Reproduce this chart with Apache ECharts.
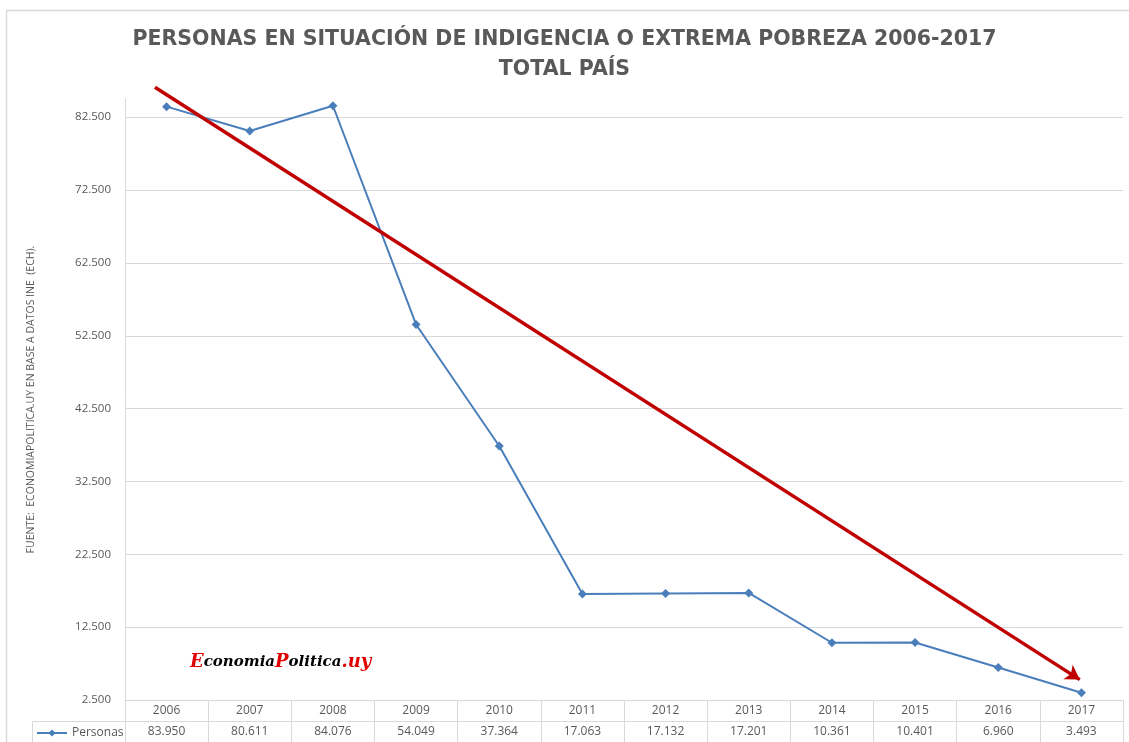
<!DOCTYPE html>
<html>
<head>
<meta charset="utf-8">
<title>Personas en situación de indigencia</title>
<script src="https://cdn.jsdelivr.net/npm/echarts@6/dist/echarts.min.js"></script>
<style>
  html, body { margin: 0; padding: 0; background: #fff; }
  #chart { width: 1129px; height: 742px; }
</style>
</head>
<body>
<div id="chart"></div>
<script>
// datos
var years = ['2006','2007','2008','2009','2010','2011','2012','2013','2014','2015','2016','2017'];
var personas = [83950, 80611, 84076, 54049, 37364, 17063, 17132, 17201, 10361, 10401, 6960, 3493];
// tendencia (x en índice de categoría, y en personas)
var trendX = [-0.14, 10.98];
var trendY = [86600, 5300];

function fmt(v){
  return String(v).replace(/\B(?=(\d{3})+(?!\d))/g, '.');
}

document.addEventListener('DOMContentLoaded', function(){
  var chart = echarts.init(document.getElementById('chart'));
  var gray = '#595959';
  var lineGray = '#d9d9d9';
  var font = '"Open Sans", sans-serif';

  var trendData = trendX.map(function(x, i){
    var item = { value: [x, trendY[i]] };
    if (i === trendX.length - 1) {
      item.symbol = 'arrow';
      item.symbolSize = [13, 14];
      item.symbolRotate = -122.8;
    }
    return item;
  });

  var option = {
    backgroundColor: '#fff',
    animation: false,
    title: {
      text: 'PERSONAS EN SITUACIÓN DE INDIGENCIA O EXTREMA POBREZA 2006-2017\nTOTAL PAÍS',
      left: 'center',
      top: 20,
      textStyle: { color: gray, fontSize: 20.5, fontWeight: 'bold', fontFamily: '"DejaVu Sans", sans-serif', lineHeight: 30 }
    },
    grid: { left: 125, right: 6, top: 99, bottom: 42 },
    legend: {
      data: ['Personas'],
      left: 31,
      top: 722,
      itemWidth: 30,
      itemHeight: 9,
      itemGap: 4,
      textStyle: { color: gray, fontSize: 12, fontFamily: font }
    },
    xAxis: [
      {
        type: 'category',
        data: years,
        position: 'bottom',
        axisLine: { show: true, lineStyle: { color: lineGray } },
        axisTick: { show: true, length: 21, interval: 0, lineStyle: { color: lineGray } },
        axisLabel: { color: gray, fontSize: 12, fontFamily: font, margin: 5, interval: 0 }
      },
      {
        type: 'category',
        data: years,
        position: 'bottom',
        offset: 21,
        axisLine: { show: true, lineStyle: { color: lineGray } },
        axisTick: { show: true, length: 21, interval: 0, lineStyle: { color: lineGray } },
        axisLabel: {
          color: gray, fontSize: 12, fontFamily: font, margin: 5, interval: 0,
          formatter: function(v, i){ return fmt(personas[i]); }
        }
      },
      {
        type: 'value',
        min: -0.5,
        max: 11.5,
        show: false
      }
    ],
    yAxis: {
      type: 'value',
      min: 2500,
      max: 85000,
      interval: 10000,
      name: 'FUENTE:  ECONOMIAPOLITICA.UY EN BASE A DATOS INE  (ECH).',
      nameLocation: 'middle',
      nameGap: 88,
      nameTextStyle: { color: gray, fontSize: 10.5, fontFamily: font },
      axisLine: { show: true, onZero: false, lineStyle: { color: lineGray } },
      axisTick: { show: false },
      axisLabel: {
        color: gray, fontSize: 11.5, fontFamily: font, margin: 14, showMaxLabel: false,
        formatter: function(v){ return fmt(v); }
      },
      splitLine: { show: true, showMaxLine: false, lineStyle: { color: lineGray } }
    },
    series: [
      {
        name: 'Personas',
        type: 'line',
        xAxisIndex: 0,
        data: personas,
        symbol: 'diamond',
        symbolSize: 9,
        lineStyle: { color: '#4a7ebb', width: 2 },
        itemStyle: { color: '#4a7ebb' }
      },
      {
        name: 'Tendencia',
        type: 'line',
        xAxisIndex: 2,
        data: trendData,
        clip: false,
        symbol: 'none',
        lineStyle: { color: '#c00000', width: 3.5 },
        itemStyle: { color: '#c00000' },
        z: 3
      }
    ],
    graphic: [
      {
        type: 'rect',
        shape: { x: 6.5, y: 10.5, width: 1140, height: 800 },
        style: { fill: 'none', stroke: lineGray, lineWidth: 1.5 },
        silent: true
      },
      {
        type: 'polyline',
        shape: { points: [[32.5, 745], [32.5, 721.5], [125, 721.5]] },
        style: { fill: 'none', stroke: lineGray, lineWidth: 1 },
        silent: true
      },
      {
        type: 'text',
        left: 190,
        top: 653,
        style: {
          text: '{r|E}{k|conomia}{r|P}{k|olitica}{r|.uy}',
          rich: {
            r: { fill: '#e00000', fontSize: 18, fontStyle: 'italic', fontWeight: 'bold', fontFamily: '"DejaVu Serif", serif' },
            k: { fill: '#000', fontSize: 15, fontStyle: 'italic', fontWeight: 'bold', fontFamily: '"DejaVu Serif", serif' }
          }
        }
      }
    ]
  };

  chart.setOption(option);
});
</script>
</body>
</html>
